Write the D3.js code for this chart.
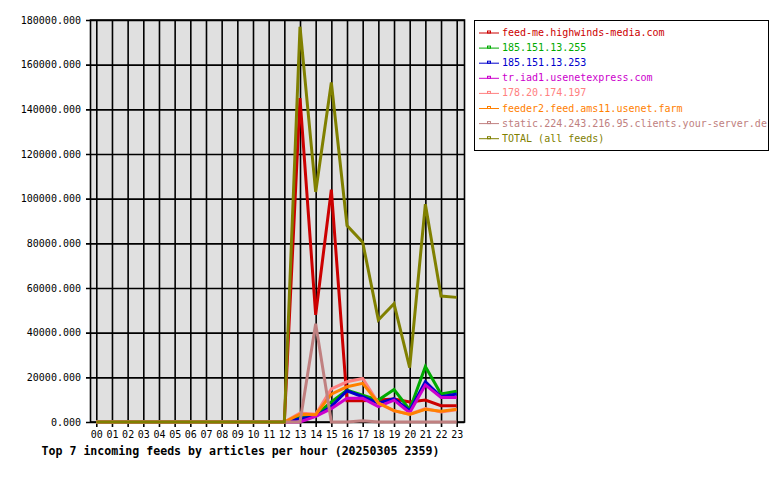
<!DOCTYPE html>
<html>
<head>
<meta charset="utf-8">
<script src="https://cdn.jsdelivr.net/npm/d3@7"></script>
<style>
  body { margin: 0; background: #fff; }
  svg { display: block; }
  text { font-family: "DejaVu Sans Mono", monospace; }
</style>
</head>
<body>
<svg width="780" height="480"></svg>
<script>
var width = 780;
var height = 480;

// hours 00..23
var hours = d3.range(24);
var yTicks = [0, 20000, 40000, 60000, 80000, 100000, 120000, 140000, 160000, 180000];

var feedNames = [
  "feed-me.highwinds-media.com",
  "185.151.13.255",
  "185.151.13.253",
  "tr.iad1.usenetexpress.com",
  "178.20.174.197",
  "feeder2.feed.ams11.usenet.farm",
  "static.224.243.216.95.clients.your-server.de",
  "TOTAL (all feeds)"
];
var feedColors = ["#cc0000", "#00aa00", "#0000cc", "#cc00cc", "#ff8080", "#ff8000", "#c08080", "#808000"];

var zeros = [0, 0, 0, 0, 0, 0, 0, 0, 0, 0, 0, 0];
var feedMe    = zeros.concat([0, 145000, 48000, 104000, 9500, 9500, 9800, 10300, 9000, 9800, 7300, 7300]);
var feed255   = zeros.concat([0, 2000, 3000, 9000, 14300, 12000, 9800, 14500, 5500, 24800, 12500, 13800]);
var feed253   = zeros.concat([0, 1500, 2500, 7000, 14000, 11300, 8400, 10500, 5100, 18000, 11300, 12500]);
var feedIad1  = zeros.concat([0, 0, 2500, 6000, 10600, 10600, 6900, 9800, 4200, 16600, 11000, 11000]);
var feed178   = zeros.concat([0, 4000, 3500, 14800, 18000, 19500, 8500, 5000, 3500, 6000, 4500, 5500]);
var feedAms11 = zeros.concat([0, 3500, 3300, 12500, 15800, 17300, 8500, 5100, 3400, 5700, 4800, 5700]);
var feedStatic = zeros.concat([0, 0, 44000, 0, 0, 600, 0, 0, 0, 0, 0, 0]);
var feedTotal = zeros.concat([0, 177000, 103000, 152000, 88000, 80500, 45700, 53000, 24300, 97500, 56400, 55800]);

var feedValues = [feedMe, feed255, feed253, feedIad1, feed178, feedAms11, feedStatic, feedTotal];

var plotLeft = 90.5, plotRight = 464.5, plotTop = 20, plotBottom = 422;

var svg = d3.select("svg");

var x = d3.scaleLinear()
  .domain([0, 23])
  .range([96.3, 456.7]);

var y = d3.scaleLinear()
  .domain([0, 180000])
  .range([plotBottom, plotTop]);

// plot background
svg.append("rect")
  .attr("x", plotLeft)
  .attr("y", plotTop)
  .attr("width", plotRight - plotLeft)
  .attr("height", plotBottom - plotTop)
  .attr("fill", "#e0e0e0");

// horizontal grid + y labels
var yAxis = svg.append("g")
  .attr("transform", "translate(86,0)")
  .call(d3.axisLeft(y)
    .tickValues(yTicks)
    .tickSize(-(plotRight - 86))
    .tickPadding(5)
    .tickFormat(d3.format(".3f")));
yAxis.select(".domain").remove();
yAxis.selectAll("line").attr("stroke", "#000").attr("stroke-width", 1.6);
yAxis.selectAll("text")
  .attr("font-family", "DejaVu Sans Mono, monospace")
  .attr("font-size", "10px")
  .attr("fill", "#000");

// vertical grid + hour labels
var xAxis = svg.append("g")
  .attr("transform", "translate(0,427)")
  .call(d3.axisBottom(x)
    .tickValues(hours)
    .tickSize(-(427 - plotTop))
    .tickPadding(4)
    .tickFormat(d3.format("02d")));
xAxis.select(".domain").remove();
xAxis.selectAll("line").attr("stroke", "#000").attr("stroke-width", 1.6);
xAxis.selectAll("text")
  .attr("font-family", "DejaVu Sans Mono, monospace")
  .attr("font-size", "10px")
  .attr("fill", "#000");

// frame
svg.append("rect")
  .attr("x", plotLeft)
  .attr("y", plotTop)
  .attr("width", plotRight - plotLeft)
  .attr("height", plotBottom - plotTop)
  .attr("fill", "none")
  .attr("stroke", "#000")
  .attr("stroke-width", 1.6);

var line = d3.line()
  .x((d, i) => x(hours[i]))
  .y(d => y(d));

svg.append("g")
  .selectAll("path")
  .data(feedValues)
  .join("path")
    .attr("d", d => line(d))
    .attr("fill", "none")
    .attr("stroke", (d, i) => feedColors[i])
    .attr("stroke-width", 3)
    .attr("stroke-linejoin", "miter");

// legend
var legend = svg.append("g");
legend.append("rect")
  .attr("x", 474.5)
  .attr("y", 20.5)
  .attr("width", 294)
  .attr("height", 130)
  .attr("fill", "#fff")
  .attr("stroke", "#000")
  .attr("stroke-width", 1);

var rows = legend.selectAll(".row")
  .data(feedNames)
  .join("g")
    .attr("class", "row")
    .attr("transform", (d, i) => "translate(0," + (32.5 + i * 15.1) + ")");

rows.append("line")
  .attr("x1", 479)
  .attr("x2", 499)
  .attr("y1", 0.5)
  .attr("y2", 0.5)
  .attr("stroke", (d, i) => feedColors[i])
  .attr("stroke-width", 1);

rows.append("rect")
  .attr("x", 487.5)
  .attr("y", -1.5)
  .attr("width", 3)
  .attr("height", 2)
  .attr("fill", "none")
  .attr("stroke", (d, i) => feedColors[i])
  .attr("stroke-width", 1);

rows.append("text")
  .attr("x", 502)
  .attr("y", 0)
  .attr("dy", "0.35em")
  .attr("font-size", "10px")
  .attr("fill", (d, i) => feedColors[i])
  .text(d => d);

// title
svg.append("text")
  .attr("x", 41.5)
  .attr("y", 455)
  .attr("font-size", "11.6px")
  .attr("font-weight", "bold")
  .attr("fill", "#000")
  .text("Top 7 incoming feeds by articles per hour (20250305 2359)");
</script>
</body>
</html>
